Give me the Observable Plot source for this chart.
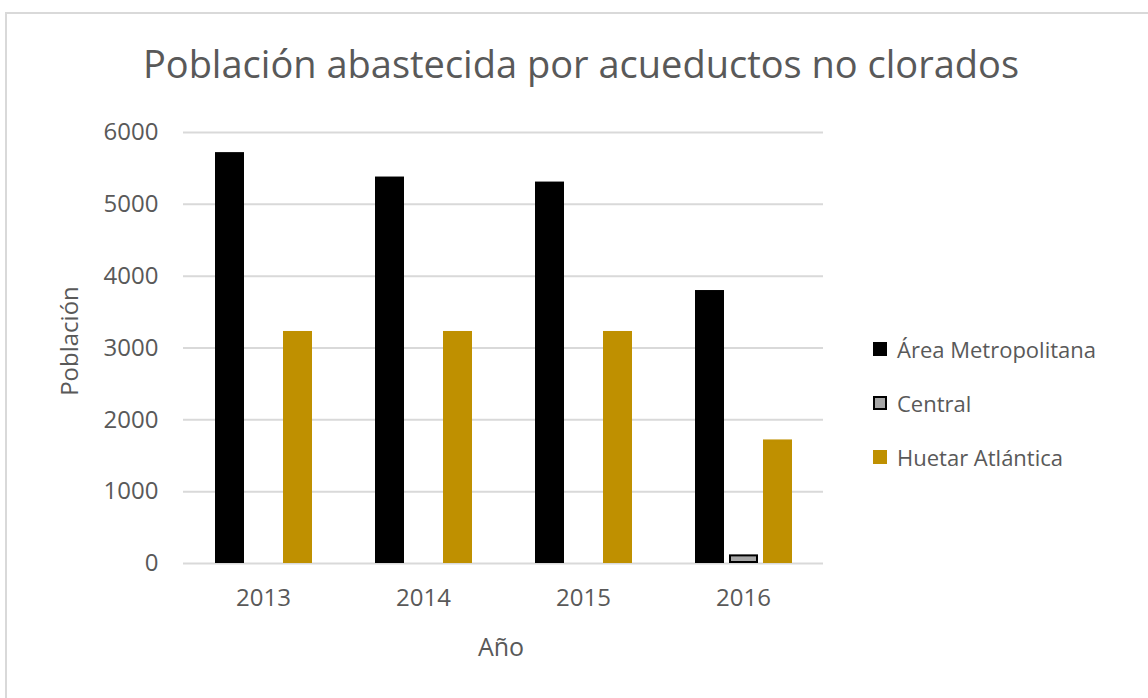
<!DOCTYPE html>
<html>
<head>
<meta charset="utf-8">
<script src="https://cdn.jsdelivr.net/npm/d3@7"></script>
<script src="https://cdn.jsdelivr.net/npm/@observablehq/plot@0.6"></script>
<style>
  html, body { margin: 0; padding: 0; background: #fff; }
  #wrap { position: relative; width: 1148px; height: 698px; overflow: hidden; font-family: "Open Sans", sans-serif; color: #595959; }
  #frame { position: absolute; left: 5px; top: 12px; width: 1170px; height: 720px; border: 2px solid #d9d9d9; box-sizing: border-box; }
  #title { position: absolute; left: 0; width: 1162px; top: 40px; text-align: center; font-size: 38px; line-height: 46px; color: #595959; }
  #chart { position: absolute; left: 0; top: 0; }
  #ylabel { position: absolute; left: 68px; top: 341px; transform: translate(-50%, -50%) rotate(-90deg); font-size: 24px; white-space: nowrap; }
  #xlabel { position: absolute; left: 501px; top: 646px; transform: translate(-50%, -50%); font-size: 25px; }
  #legend { position: absolute; left: 873px; top: 322px; font-size: 22px; }
  .item { display: flex; align-items: center; height: 54px; line-height: 30px; }
  .sw { width: 14px; height: 14px; margin-right: 10px; box-sizing: border-box; }
</style>
</head>
<body>
<div id="wrap">
  <div id="frame"></div>
  <div id="title">Población abastecida por acueductos no clorados</div>
  <div id="chart"></div>
  <div id="ylabel">Población</div>
  <div id="xlabel">Año</div>
  <div id="legend"></div>
</div>
<script>
const years = ["2013", "2014", "2015", "2016"];
const seriesNames = ["Área Metropolitana", "Central", "Huetar Atlántica"];
const metro = [5720, 5380, 5310, 3800];
const central = [0, 0, 0, 120];
const huetar = [3230, 3230, 3230, 1720];
const yTicks = [0, 1000, 2000, 3000, 4000, 5000, 6000];
const colors = ["#000000", "#a6a6a6", "#bf9000"];
const strokes = ["#000000", "#000000", "#bf9000"];

const seriesValues = [metro, central, huetar];
const rows = [];
years.forEach((yr, i) => {
  seriesNames.forEach((s, j) => {
    rows.push({ year: yr, series: s, value: seriesValues[j][i] });
  });
});
const shown = rows.filter(d => d.value > 0);

const chart = Plot.plot({
  width: 840,
  height: 698,
  marginTop: 132,
  marginBottom: 135,
  marginLeft: 182,
  marginRight: 17,
  style: { fontFamily: "Open Sans, sans-serif", fontSize: "24px", color: "#595959", background: "transparent" },
  fx: { domain: years, padding: 0, label: null },
  x: { domain: seriesNames, paddingInner: 0.15, paddingOuter: 0.925, axis: null },
  y: { domain: [0, 6000], label: null },
  color: { domain: seriesNames, range: colors },
  marks: [
    Plot.gridY(yTicks, { stroke: "#d9d9d9", strokeOpacity: 1, strokeWidth: 2 }),
    Plot.axisY(yTicks, { tickSize: 0, tickPadding: 25, label: null, fontSize: 24, fill: "#595959", tickFormat: d => String(d) }),
    Plot.axisFx({ anchor: "bottom", tickSize: 0, tickPadding: 25, label: null, fontSize: 24, fill: "#595959" }),
    Plot.rectY(shown, {
      fx: "year",
      x: "series",
      y: "value",
      fill: "series",
      stroke: d => strokes[seriesNames.indexOf(d.series)],
      strokeWidth: 2,
      inset: 1
    })
  ]
});
document.getElementById("chart").appendChild(chart);

const legend = document.getElementById("legend");
seriesNames.forEach((s, j) => {
  const item = document.createElement("div");
  item.className = "item";
  const sw = document.createElement("div");
  sw.className = "sw";
  sw.style.background = colors[j];
  if (j === 1) sw.style.border = "2px solid #000";
  const t = document.createElement("span");
  t.textContent = s;
  item.appendChild(sw);
  item.appendChild(t);
  legend.appendChild(item);
});
</script>
</body>
</html>
